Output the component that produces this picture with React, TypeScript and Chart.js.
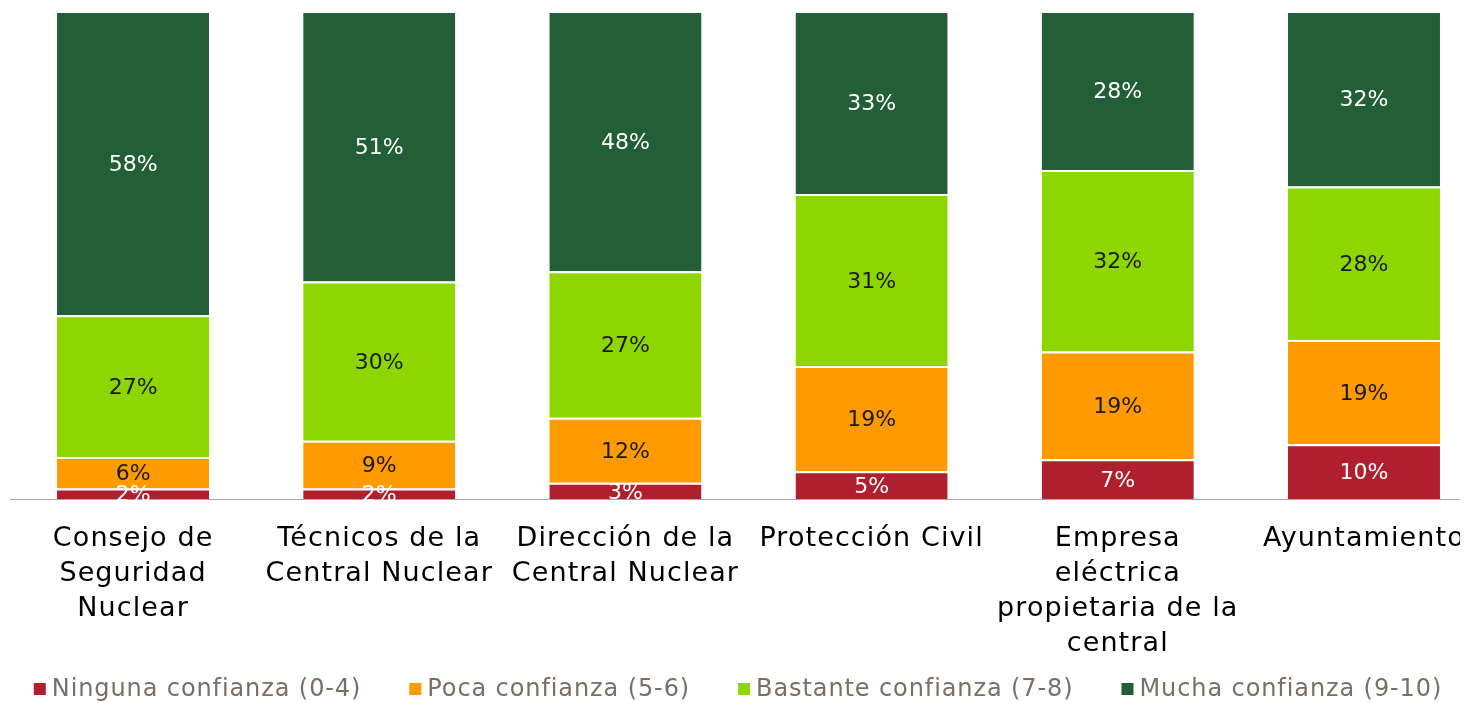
import React, { useEffect, useRef } from "react";
import { Chart, registerables } from "chart.js";

Chart.register(...registerables);

const categories: string[][] = [
  ["Consejo de", "Seguridad", "Nuclear"],
  ["Técnicos de la", "Central Nuclear"],
  ["Dirección de la", "Central Nuclear"],
  ["Protección Civil"],
  ["Empresa", "eléctrica", "propietaria de la", "central"],
  ["Ayuntamiento"],
];
const ninguna = [2, 2, 3, 5, 7, 10];
const poca = [6, 9, 12, 19, 19, 19];
const bastante = [27, 30, 27, 31, 32, 28];
const mucha = [58, 51, 48, 33, 28, 32];
const seriesNames = [
  "Ninguna confianza (0-4)",
  "Poca confianza (5-6)",
  "Bastante confianza (7-8)",
  "Mucha confianza (9-10)",
];
const seriesColors = ["#b01f2e", "#ff9a00", "#8ed600", "#225e36"];
const labelColors = ["#ffffff", "#1a1a1a", "#1a1a1a", "#ffffff"];

const FONT = "'DejaVu Sans', sans-serif";

export default function App() {
  const ref = useRef<HTMLCanvasElement | null>(null);
  useEffect(() => {
    if (!ref.current) return;
    document.body.style.overflow = "hidden";
    const raw = [ninguna, poca, bastante, mucha];
    const totals = categories.map((_, i) => raw.reduce((s, arr) => s + arr[i], 0));

    const spacingPlugin = {
      id: "spacing",
      beforeDraw(chart: any) {
        chart.ctx.letterSpacing = "1.1px";
      },
    };

    const labelPlugin = {
      id: "segLabels",
      afterDatasetsDraw(chart: any) {
        const ctx = chart.ctx;
        ctx.save();
        ctx.letterSpacing = "0px";
        ctx.font = `22px ${FONT}`;
        ctx.textAlign = "center";
        ctx.textBaseline = "middle";
        chart.data.datasets.forEach((ds: any, di: number) => {
          const meta = chart.getDatasetMeta(di);
          meta.data.forEach((el: any, i: number) => {
            const cy = (el.y + el.base) / 2;
            ctx.fillStyle = labelColors[di];
            ctx.fillText(`${ds.rawValues[i]}%`, el.x, cy + 2);
          });
        });
        ctx.restore();
      },
    };

    const legendPlugin = {
      id: "customLegend",
      afterDraw(chart: any) {
        const ctx = chart.ctx;
        ctx.save();
        ctx.letterSpacing = "0.9px";
        ctx.font = `24px ${FONT}`;
        ctx.textBaseline = "middle";
        ctx.textAlign = "left";
        const box = 12;
        const gapBoxText = 6;
        const gapItems = 48;
        const widths = seriesNames.map((n) => ctx.measureText(n).width);
        const total =
          widths.reduce((a, b) => a + b, 0) +
          seriesNames.length * (box + gapBoxText) +
          (seriesNames.length - 1) * gapItems;
        let x = 730 - total / 2;
        const y = 681;
        seriesNames.forEach((n, i) => {
          ctx.fillStyle = seriesColors[i];
          ctx.fillRect(x, y - box / 2, box, box);
          x += box + gapBoxText;
          ctx.fillStyle = "#7b6f63";
          ctx.fillText(n, x, y + 1);
          x += widths[i] + gapItems;
        });
        ctx.restore();
      },
    };

    const chart = new Chart(ref.current, {
      type: "bar",
      data: {
        labels: categories,
        datasets: raw.map((arr, di) => ({
          label: seriesNames[di],
          data: arr.map((v, i) => (v / totals[i]) * 100),
          rawValues: arr,
          backgroundColor: seriesColors[di],
          borderColor: "#ffffff",
          borderWidth: { top: 2, bottom: 0, left: 0, right: 0 },
          borderSkipped: false,
          categoryPercentage: 1,
          barPercentage: 0.618,
        })) as any,
      },
      options: {
        animation: false,
        responsive: false,
        maintainAspectRatio: false,
        layout: { padding: { left: 2, right: 21, top: 3, bottom: 0 } },
        plugins: {
          legend: { display: false },
          tooltip: { enabled: false },
        },
        scales: {
          x: {
            stacked: true,
            offset: true,
            grid: { display: false },
            border: { display: true, color: "#a6a6a6", width: 1 },
            ticks: {
              color: "#000000",
              font: { family: FONT, size: 27, lineHeight: 1.3 },
              padding: 14,
              maxRotation: 0,
              autoSkip: false,
            },
            afterFit: (scale: any) => {
              scale.height = 204;
            },
          },
          y: {
            stacked: true,
            display: false,
            min: 0,
            max: 100,
          },
        },
      },
      plugins: [spacingPlugin, labelPlugin, legendPlugin],
    });
    return () => chart.destroy();
  }, []);

  return (
    <div style={{ width: 1460, height: 695, overflow: "hidden" }}>
      <canvas ref={ref} width={1500} height={695} style={{ display: "block" }} />
    </div>
  );
}
